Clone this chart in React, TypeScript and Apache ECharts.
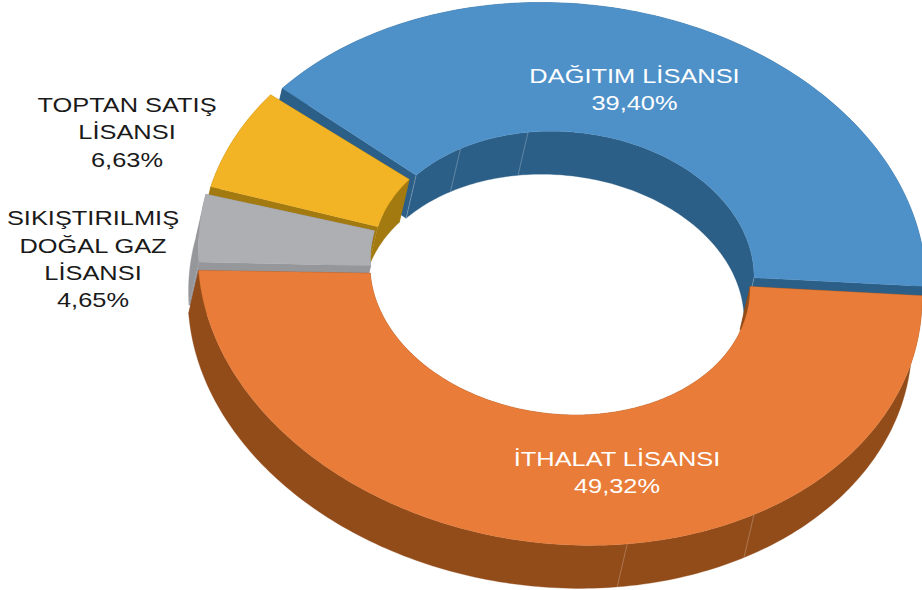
import React, { useEffect, useRef } from "react";
import * as echarts from "echarts";

const names = ["İTHALAT LİSANSI", "SIKIŞTIRILMIŞ\nDOĞAL GAZ\nLİSANSI", "TOPTAN SATIŞ\nLİSANSI", "DAĞITIM LİSANSI"];
const shares = [49.32, 4.65, 6.63, 39.4];

const topColors = ["#E87C38", "#AEAFB2", "#F2B324", "#4E91C9"];
const wallColors = ["#924C1A", "#96979B", "#A27A10", "#2C5F87"];
const labelColors = ["#ffffff", "#1a1a1a", "#1a1a1a", "#ffffff"];
const labelX = [617, 93, 127, 634.5];
const labelY = [472, 259, 132, 89];

// per-slice apex after explosion, projection shape, and projection correction of slice ends (degrees)
const apexX = [560, 560.5, 562.5, 564];
const apexY = [276.5, 270, 269.5, 268];
const radiusY = [268, 268, 268, 265];
const shearY = [22, 22, 20, 17];
const startNudge = [0, 0.05, 0, 1.34];
const endNudge = [-0.35, -2.0, -1.3, 0.9];
const seamAngles = [[57.6, 79.3], [], [], [218.9, 237, 259.1, 360.3]];

const START = -0.6;
const RX = 362, IN_X = 0.525, IN_Y = 0.515;
const DX = -10, DY = 43;

const total = shares.reduce((a, b) => a + b, 0);

const App = () => {
  const ref = useRef<HTMLDivElement>(null);
  useEffect(() => {
    if (!ref.current) return;
    const chart = echarts.init(ref.current, undefined, { renderer: "svg" });
    const ranges: [number, number][] = [];
    let cum = START;
    shares.forEach((v, i) => {
      const sweep = (v / total) * 360;
      ranges.push([cum + startNudge[i], cum + sweep + endNudge[i]]);
      cum += sweep;
    });
    const pt = (i: number, t: number, k: number, shift = 0) => {
      const a = (t * Math.PI) / 180;
      const c = Math.cos(a), s = Math.sin(a);
      const kx = k === 1 ? 1 : IN_X, ky = k === 1 ? 1 : IN_Y;
      return [apexX[i] + RX * kx * c + DX * shift, apexY[i] + radiusY[i] * ky * s + shearY[i] * kx * c + DY * shift];
    };
    const arc = (i: number, t0: number, t1: number, k: number, shift = 0) => {
      const out: number[][] = [];
      const n = Math.max(2, Math.ceil(Math.abs(t1 - t0)));
      for (let j = 0; j <= n; j++) out.push(pt(i, t0 + ((t1 - t0) * j) / n, k, shift));
      return out;
    };
    const poly = (points: number[][], fill: string) => ({
      type: "polygon",
      shape: { points },
      style: { fill, stroke: fill, lineWidth: 0.3 },
    });
    const renderItem = (params: any, api: any) => {
      const i = api.value(0);
      const [t0, t1] = ranges[i];
      const wall = wallColors[i];
      const children: any[] = [];
      children.push(poly([...arc(i, t0, t1, 1), ...arc(i, t1, t0, 1, 1)], wall));
      children.push(poly([...arc(i, t0, t1, 0), ...arc(i, t1, t0, 0, 1)], wall));
      [t0, t1].forEach((t) => {
        children.push(poly([pt(i, t, 1), pt(i, t, 0), pt(i, t, 0, 1), pt(i, t, 1, 1)], wall));
      });
      seamAngles[i].forEach((t) => {
        const k = i === 3 ? 0 : 1;
        const a = pt(i, t, k), b = pt(i, t, k, 1);
        children.push({
          type: "line",
          shape: { x1: a[0], y1: a[1], x2: b[0], y2: b[1] },
          style: { stroke: "rgba(255,255,255,0.3)", lineWidth: 0.8 },
        });
      });
      children.push(poly([...arc(i, t0, t1, 1), ...arc(i, t1, t0, 0)], topColors[i]));
      return { type: "group", children };
    };
    chart.setOption({
      animation: false,
      backgroundColor: "#ffffff",
      series: [
        {
          type: "custom",
          coordinateSystem: "none",
          silent: true,
          renderItem,
          data: shares.map((v, i) => [i, v]).reverse(),
        },
      ],
      graphic: shares.map((v, i) => ({
        type: "text",
        x: labelX[i],
        y: labelY[i],
        scaleX: 1.21,
        z: 10,
        style: {
          text: `${names[i]}\n${v.toFixed(2).replace(".", ",")}%`,
          fill: labelColors[i],
          font: '21px "Liberation Sans"',
          lineHeight: 27.3,
          textAlign: "center",
          textVerticalAlign: "middle",
        },
      })),
    });
    return () => chart.dispose();
  }, []);
  return <div ref={ref} style={{ position: "absolute", left: 0, top: 0, width: 922, height: 590 }} />;
};

export default App;
